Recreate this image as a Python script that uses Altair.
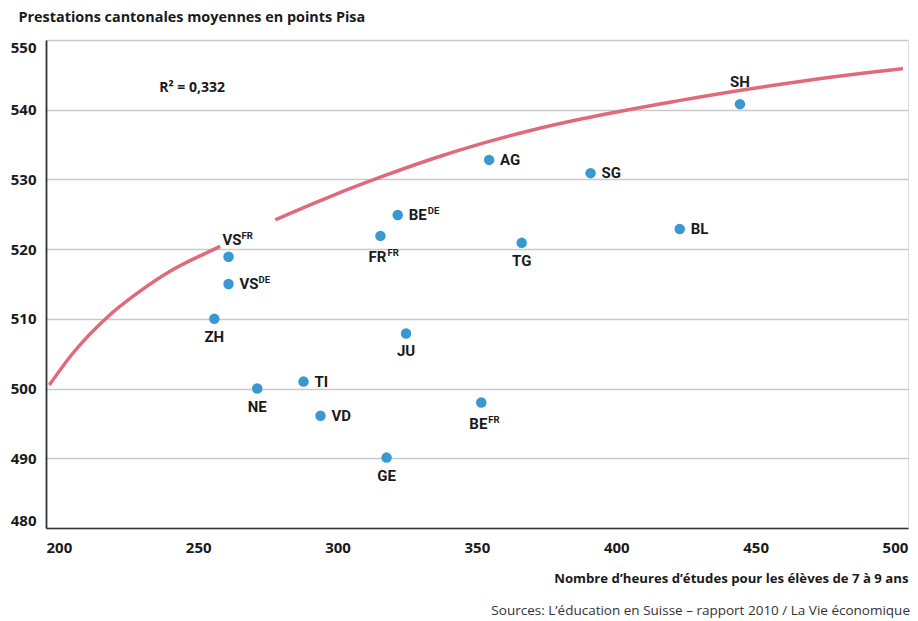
import altair as alt
import pandas as pd

# --- data ---
cantons = ["SH", "AG", "SG", "BE", "FR", "TG", "BL", "VS", "VS", "ZH", "JU", "TI", "NE", "VD", "BE", "GE"]
sups = ["", "", "", "DE", "FR", "", "", "FR", "DE", "", "", "", "", "", "FR", ""]
hours = [449, 359, 395.4, 326.2, 320, 370.7, 427.4, 265.5, 265.5, 260.4, 329.2, 292.4, 275.8, 298.5, 356.2, 322.2]
pisa = [540.8, 532.8, 530.9, 524.9, 521.9, 520.9, 522.9, 518.9, 515, 510, 507.9, 501, 500, 496.1, 498, 490.1]
label_pos = ["top", "right", "right", "right", "below", "below", "right", "top", "right", "below", "below", "right", "below", "right", "below", "below"]

# trend curve (gap where the VS label sits)
curve_x = [201.2, 209.7, 221.6, 233.5, 245.3, 257.2, 262.5,
           282.3, 286.8, 303.5, 321.2, 339.0, 356.8, 374.6, 392.4, 425.6, 449.4, 473.1, 496.8, 507.5]
curve_y = [500.5, 505.1, 510.1, 513.9, 517.0, 519.4, 520.4,
           524.2, 525.0, 527.8, 530.5, 533.0, 535.2, 537.1, 538.7, 541.2, 542.8, 544.2, 545.4, 545.9]
curve_seg = [1, 1, 1, 1, 1, 1, 1, 2, 2, 2, 2, 2, 2, 2, 2, 2, 2, 2, 2, 2]

x_ticks = [200, 250, 300, 350, 400, 450, 500]
y_ticks = [480, 490, 500, 510, 520, 530, 540, 550]
x_domain = [200, 509.3]
y_domain = [480, 550]

r2_text = ["R² = 0,332"]
r2_x = [240.6]
r2_y = [543.1]

title_y = "Prestations cantonales moyennes en points Pisa"
title_x = "Nombre d’heures d’études pour les élèves de 7 à 9 ans"
source = "Sources: L’éducation en Suisse – rapport 2010 / La Vie économique"

# --- styles ---
LBL_FONT = "Roboto, sans-serif"
FONT = "'Open Sans', sans-serif"
BLUE = "#3a98d1"
RED = "#e0697c"
INK = "#1a1a1a"
W, H = 862, 488

pts = pd.DataFrame({"canton": cantons, "sup": sups, "hours": hours, "pisa": pisa, "pos": label_pos})
curve = pd.DataFrame({"hours": curve_x, "pisa": curve_y, "seg": curve_seg})
r2 = pd.DataFrame({"t": r2_text, "hours": r2_x, "pisa": r2_y})

xs = alt.Scale(domain=x_domain, nice=False, zero=False)
ys = alt.Scale(domain=y_domain, nice=False, zero=False)

X = alt.X("hours:Q", scale=xs, axis=alt.Axis(
    values=x_ticks, labelAlign="left", labelFlush=False, ticks=False, grid=False,
    domainColor="#333333", domainWidth=1.6, labelPadding=12,
    labelFontSize=15, labelFontWeight="bold", labelColor=INK, labelFont=FONT,
    title=title_x, titleAlign="right", titleAnchor="end", titleX=W, titleY=50,
    titleBaseline="middle", titleFontSize=13.2, titleFontWeight="bold", titleColor=INK, titleFont=FONT))
Y = alt.Y("pisa:Q", scale=ys, axis=alt.Axis(
    values=y_ticks, labelFlush=True, ticks=False, grid=True,
    gridColor="#c9c9c9", gridWidth=1.5,
    domainColor="#333333", domainWidth=1.8, labelPadding=10,
    labelFontSize=15, labelFontWeight="bold", labelColor=INK, labelFont=FONT,
    title=title_y, titleAngle=0, titleAlign="left", titleAnchor="start",
    titleX=-28, titleY=-23, titleBaseline="middle",
    titleFontSize=14.4, titleFontWeight="bold", titleColor=INK, titleFont=FONT))

base = alt.Chart(pts).encode(x=X, y=Y)

line = alt.Chart(curve).mark_line(color=RED, strokeWidth=3.5, interpolate="monotone").encode(
    x=alt.X("hours:Q", scale=xs), y=alt.Y("pisa:Q", scale=ys), detail="seg:N")

dots = base.mark_circle(size=110, color=BLUE, opacity=1)

def txt(**kw):
    d = dict(font=LBL_FONT, fontSize=15, fontWeight="bold", color=INK, baseline="middle")
    d.update(kw)
    return d

def supt(**kw):
    d = dict(font=LBL_FONT, fontSize=9.5, fontWeight="bold", color=INK, baseline="middle")
    d.update(kw)
    return d

enc_main = dict(x=alt.X("hours:Q", scale=xs), y=alt.Y("pisa:Q", scale=ys), text="canton:N")
enc_sup = dict(x=alt.X("hours:Q", scale=xs), y=alt.Y("pisa:Q", scale=ys), text="sup:N")

right_lbl = alt.Chart(pts).transform_filter("datum.pos == 'right'").mark_text(
    **txt(align="left", dx=11)).encode(**enc_main)
right_sup = alt.Chart(pts).transform_filter("datum.pos == 'right' && datum.sup != ''").mark_text(
    **supt(align="left", dx=30, dy=-4)).encode(**enc_sup)

below_lbl = alt.Chart(pts).transform_filter("datum.pos == 'below' && datum.sup == ''").mark_text(
    **txt(align="center", dy=18)).encode(**enc_main)
below_main = alt.Chart(pts).transform_filter("datum.pos == 'below' && datum.sup != ''").mark_text(
    **txt(align="left", dx=-12, dy=21)).encode(**enc_main)
below_sup = alt.Chart(pts).transform_filter("datum.pos == 'below' && datum.sup != ''").mark_text(
    **supt(align="left", dx=7, dy=17)).encode(**enc_sup)

top_lbl = alt.Chart(pts).transform_filter("datum.pos == 'top' && datum.sup == ''").mark_text(
    **txt(align="center", dy=-22)).encode(**enc_main)
top_main = alt.Chart(pts).transform_filter("datum.pos == 'top' && datum.sup != ''").mark_text(
    **txt(align="left", dx=-6, dy=-17)).encode(**enc_main)
top_sup = alt.Chart(pts).transform_filter("datum.pos == 'top' && datum.sup != ''").mark_text(
    **supt(align="left", dx=13, dy=-21)).encode(**enc_sup)

r2_lbl = alt.Chart(r2).mark_text(**txt(align="left", fontSize=14, font=FONT)).encode(
    x=alt.X("hours:Q", scale=xs), y=alt.Y("pisa:Q", scale=ys), text="t:N")

frame = base.mark_point(opacity=0)

chart = alt.layer(
    frame, line, dots, right_lbl, right_sup, below_lbl, below_main, below_sup,
    top_lbl, top_main, top_sup, r2_lbl
).properties(
    width=W, height=H,
    padding={"left": 38, "top": 32, "right": 2, "bottom": 98},
    autosize=alt.AutoSizeParams(type="none"),
    title=alt.TitleParams(source, orient="bottom", anchor="end", offset=20,
                          fontSize=13.5, fontWeight="normal", color="#333333", font=FONT),
).configure_view(stroke=None).configure(background="white")

chart.save("out.html", embed_options={"renderer": "svg", "actions": False})
